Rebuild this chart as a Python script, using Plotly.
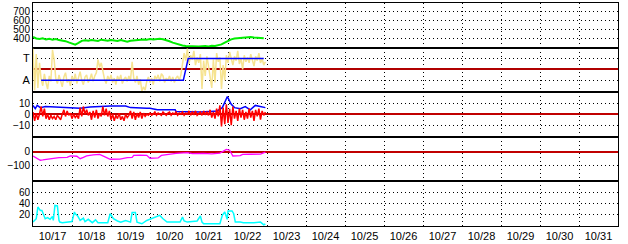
import pandas as pd
import plotly.graph_objects as go
from plotly.subplots import make_subplots

# ---------------- data ----------------
START = "2023-10-17 00:00"
day_labels = ["10/17", "10/18", "10/19", "10/20", "10/21", "10/22", "10/23", "10/24",
              "10/25", "10/26", "10/27", "10/28", "10/29", "10/30", "10/31"]

# panel 1 (green), every 2 hours from start
green_hours = [0, 2, 4, 6, 8, 10, 12, 14, 16, 18, 20, 22, 24, 26, 28, 30, 32, 34, 36, 38,
               40, 42, 44, 46, 48, 50, 52, 54, 56, 58, 60, 62, 64, 66, 68, 70, 72, 74, 76, 78,
               80, 82, 84, 86, 88, 90, 92, 94, 96, 98, 100, 102, 104, 106, 108, 110, 112, 114,
               116, 118, 120, 122, 124, 126, 128, 130, 132, 134, 136, 138, 140, 142]
green_values = [420, 402, 396, 405, 390, 399, 388, 396, 384, 380, 372, 358, 342, 333, 352, 376,
                383, 376, 386, 379, 375, 389, 381, 377, 386, 379, 374, 384, 371, 366, 376, 381,
                384, 389, 392, 387, 395, 391, 398, 400, 394, 386, 371, 356, 344, 334, 324, 318,
                315, 313, 317, 312, 316, 319, 313, 320, 317, 326, 336, 356, 376, 392, 401, 406,
                411, 409, 416, 419, 414, 412, 409, 404]

# panel 2: A = -1, T = 1
yellow_values = [1.9, -1.9, 1.4, -1.7, 0.6, -0.9, -1.5, -0.4, -1.2, -1.8, -0.6, -1.1,
                 1.8, 0.9, -0.8, -1.3, -0.5, -1.0, -1.6, -0.7, -0.3, -1.2, -0.9, -1.5,
                 -0.6, -1.1, -0.4, -1.3, -0.8, -0.2, -1.0, -1.4, -0.7, -0.5, -1.2, -0.9,
                 -0.4, -1.1, -0.6, -0.3, 0.9, 0.2, 0.6, -0.2, -0.9, -1.3, -0.6, -1.0,
                 -0.5, -1.2, -0.8, -1.4, -0.6, -1.0, -0.5, -1.3, -0.9, -0.7, -1.1, -0.6,
                 -1.0, 0.7, -0.8, -1.2, -0.6, -1.4, -0.9, -2.0, -1.6, -1.9, -1.1, -0.7,
                 -1.2, -0.8, -1.4, -0.6, -0.9, -0.5, -1.1, -0.4, -0.6, -1.2, -0.8, -1.0,
                 -0.6, -1.1, -0.7, -1.2, -0.8, -0.6, -1.0, -0.5, 0.4, 1.5, 0.8, 1.9,
                 0.5, 1.3, 0.9, 1.7, 0.4, 1.1, 0.6, 1.4, -1.8, 0.8, -0.6, 1.2,
                 0.3, -0.9, -1.7, 0.9, -1.2, 1.5, 0.7, 1.1, -1.8, 0.4, -1.0, 1.3,
                 0.6, 1.6, 0.9, 0.4, 1.2, 0.8, 1.7, 0.5, 1.0, 0.0, 1.3, 0.7,
                 1.1, 0.6, 1.4, 0.9, 0.3, 1.2, 0.8, 1.5, 0.6, 1.0, 0.4, 0.7]
state_hours = [5, 92.5, 95.5, 142]
state_values = [-1, -1, 1, 1]
state_ticks = [-1, 1]
state_labels = ["A", "T"]

# panel 3
blue3_hours = [0, 1.4, 2.6, 4.5, 7.6, 13.7, 20, 23, 29, 35, 41, 47.6, 57, 60, 70, 72, 76.5,
               87.5, 88, 103, 109, 113.4, 116.5, 118, 119, 119.6, 121, 122, 124, 127.6,
               130.6, 133.7, 136.8, 140, 143]
blue3_values = [8, 5, 8, 6, 7, 6.5, 6, 5.5, 5.5, 6.5, 7, 7.5, 7.5, 6, 5.5, 5.5, 4,
                4, 2.5, 2, 2.5, 3, 6, 10, 14, 16, 12, 9, 6, 5,
                7, 4, 8, 7, 6]
red3_values = [2, -6, 1, -5, 0, 7, -2, 5, -4, 0, -5, -1,
               -4, -2, -5, -1, -3, -5, 0, 4, -2, 3, -1, 1,
               -4, 0, -3, -1, -4, 6, -2, 7, 0, 4, -1, 2,
               -5, 3, -3, 4, -4, 1, -2, 7, -1, 5, -2, 3,
               -5, 0, -6, -1, -4, 1, -5, -2, -6, 0, -3, -1,
               3, -4, 2, -5, 1, -3, 2, -4, 1, -2, 0, -1,
               1, -1, 0, 2, -1, 1, 0, -1, 2, 0, -1, 1,
               2, -1, 1, 0, 2, -1, 1, 0, 2, -1, 1, 0,
               3, -1, 2, 0, 3, -1, 1, 2, -1, 3, 0, 2,
               -1, 4, -3, 2, -4, 5, -2, 8, -11, 6, -9, 9,
               -8, 5, -10, 7, -4, 3, -6, 5, -3, 4, -5, 2,
               -4, 5, -3, 3, -6, 4, -2, 5, -5, 3, -1, 2]

# panel 4
magenta_hours = [0, 2, 4.5, 6, 9, 12, 16, 21, 23, 27, 29, 31, 33, 37, 41, 44, 47.5, 53.5, 56, 58,
                 61, 62, 66, 70, 72, 77, 79, 83, 88, 95, 98, 105, 110, 115, 117, 119, 121, 123,
                 127.5, 129, 134, 140, 143]
magenta_values = [-30, -45, -60, -58, -53, -44, -42, -40, -30, -32, -49, -40, -30, -22, -19, -35,
                  -53, -52, -45, -42, -40, -26, -24, -26, -46, -44, -26, -19, -12, -7, -14, -12,
                  -15, -10, 5, 16, 10, -30, -28, -19, -18, -17, -3]

# panel 5
cyan_hours = [0, 2, 3, 4.5, 5.5, 6.5, 7.5, 9, 10.5, 12, 12.5, 13.5, 15, 16, 16.5, 18, 21, 24,
              25.5, 26, 27.5, 29, 31, 32, 34, 36.5, 38.5, 40, 42.5, 46, 47.5, 49.5, 52, 54, 57,
              60, 61, 63, 64, 67, 70, 72, 78, 80, 82.5, 90.5, 92, 93, 95, 101, 103, 104, 105,
              115, 116.5, 118, 119.5, 120, 122.5, 123.5, 124.5, 127.5, 129.5, 136, 140, 142, 143]
cyan_values = [7, 13, 34, 28, 28, 19, 13, 15, 12, 17, 10, 37, 36, 10, 7, 6, 7, 8,
               25, 22, 18, 10, 14, 8, 12, 6, 11, 6, 6, 6, 22, 13, 9, 7, 10,
               7, 24, 24, 7, 4, 10, 12, 19, 13, 7, 7, 16, 9, 7, 9, 18, 7, 4,
               4, 19, 25, 12, 27, 27, 22, 7, 7, 6, 6, 7, 2, 4]

# ---------------- helpers ----------------
t0 = pd.Timestamp(START)


def times(hours):
    return [t0 + pd.Timedelta(hours=h) for h in hours]


hourly = list(range(len(yellow_values)))
red_hours = list(range(len(red3_values)))

FONT = dict(family="Liberation Sans, Arial, sans-serif", size=10, color="black")
DOT = "1px,3px"

fig = make_subplots(rows=5, cols=1, shared_xaxes=True, vertical_spacing=0)

fig.add_trace(go.Scatter(x=times(green_hours), y=green_values, mode="lines",
                         line=dict(color="#00ee00", width=2)), row=1, col=1)
fig.add_trace(go.Scatter(x=times(hourly), y=yellow_values, mode="lines",
                         line=dict(color="#f6e38f", width=1.5)), row=2, col=1)
fig.add_trace(go.Scatter(x=times(state_hours), y=state_values, mode="lines",
                         line=dict(color="#0000ff", width=1.5)), row=2, col=1)
fig.add_trace(go.Scatter(x=times(blue3_hours), y=blue3_values, mode="lines",
                         line=dict(color="#0000ff", width=1.5)), row=3, col=1)
fig.add_trace(go.Scatter(x=times(red_hours), y=red3_values, mode="lines",
                         line=dict(color="#ff0000", width=1.5)), row=3, col=1)
fig.add_trace(go.Scatter(x=times(magenta_hours), y=magenta_values, mode="lines",
                         line=dict(color="#ff00ff", width=1.3)), row=4, col=1)
fig.add_trace(go.Scatter(x=times(cyan_hours), y=cyan_values, mode="lines",
                         line=dict(color="#00ffff", width=1.5)), row=5, col=1)

x_range = [t0, t0 + pd.Timedelta(days=len(day_labels))]
noon_ticks = [t0 + pd.Timedelta(days=i, hours=12) for i in range(len(day_labels))]

fig.update_xaxes(range=x_range, showline=True, mirror=True, linecolor="black", linewidth=1,
                 showgrid=False, zeroline=False, ticks="", tickvals=noon_ticks,
                 ticktext=day_labels, tickfont=dict(FONT, size=11),
                 minor=dict(dtick=86400000, tick0=t0, showgrid=True, gridcolor="black",
                            griddash=DOT, gridwidth=1, ticks=""))

common_y = dict(showline=True, mirror=True, linecolor="black", linewidth=1, showgrid=True,
                gridcolor="black", griddash=DOT, gridwidth=1, ticks="", tickfont=FONT,
                zeroline=False)

fig.update_yaxes(range=[300, 800], tickvals=[400, 500, 600, 700], row=1, col=1, **common_y)
fig.update_yaxes(range=[-2.09, 2.0], tickvals=state_ticks, ticktext=state_labels, row=2, col=1,
                 **{**common_y, "zeroline": True, "zerolinecolor": "#b00000", "zerolinewidth": 1.5,
                    "tickfont": dict(FONT, size=11)})
fig.update_yaxes(range=[-20.5, 20.0], tickvals=[-10, 0, 10], row=3, col=1,
                 **{**common_y, "zeroline": True, "zerolinecolor": "#c00000", "zerolinewidth": 1.5})
fig.update_yaxes(range=[-208, 104], tickvals=[-100, 0], row=4, col=1,
                 **{**common_y, "zeroline": True, "zerolinecolor": "#c00000", "zerolinewidth": 1.5})
fig.update_yaxes(range=[0, 80], tickvals=[20, 40, 60], row=5, col=1, **common_y)

fig.update_layout(width=628, height=244, margin=dict(l=33, r=10, t=2, b=17),
                  paper_bgcolor="white", plot_bgcolor="white", showlegend=False,
                  font=FONT)

fig.write_html("out.html")
